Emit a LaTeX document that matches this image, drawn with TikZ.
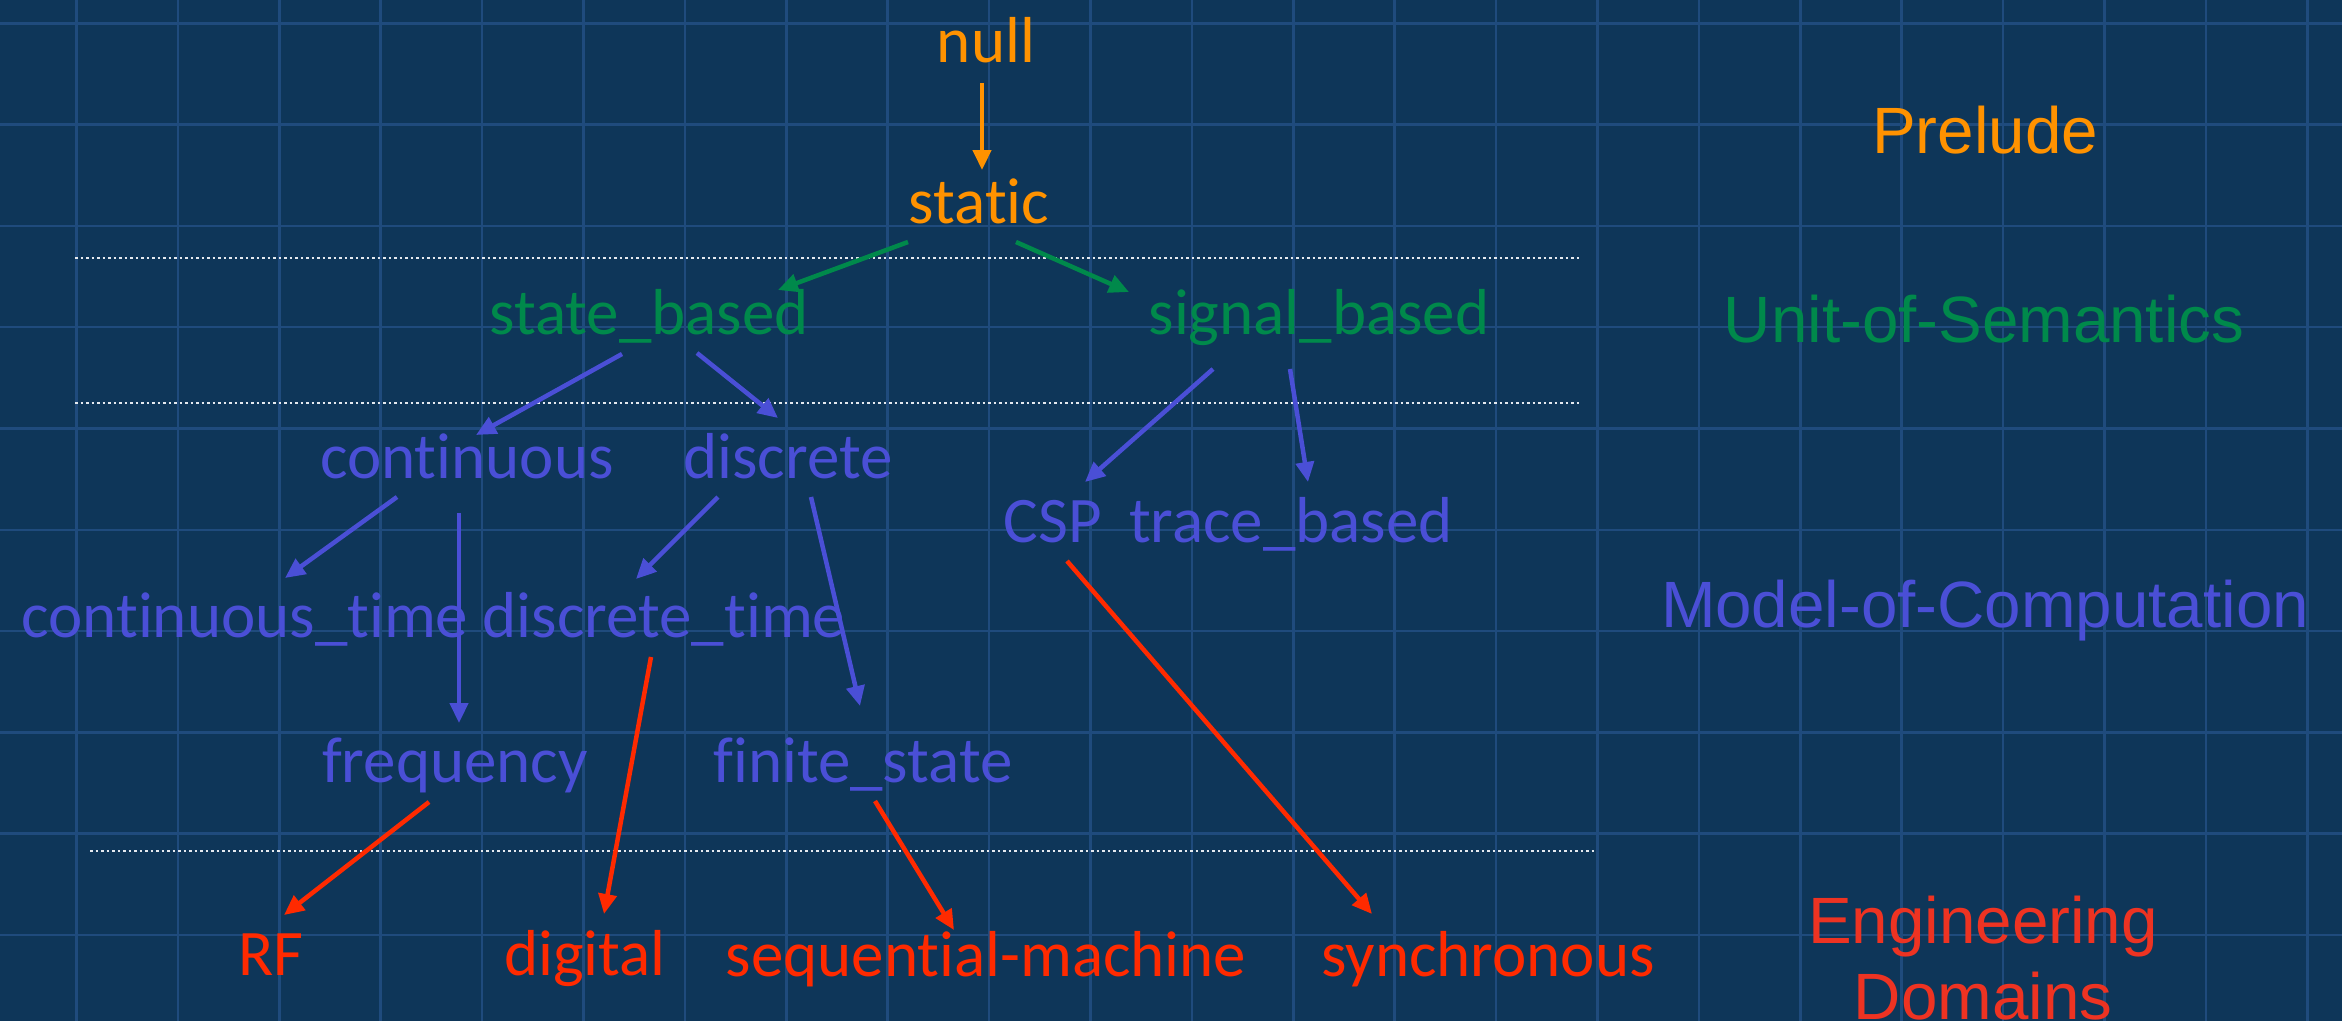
\documentclass[tikz,border=0pt]{standalone}
\usepackage{fontspec}
\usetikzlibrary{arrows.meta}
\newfontfamily\nodefont[Ligatures={NoCommon}]{Carlito}
\newfontfamily\levelfont{Liberation Sans}

\definecolor{bgblue}{HTML}{0E3659}
\definecolor{gridblue}{HTML}{1F4B7D}
\definecolor{preorange}{HTML}{FF9200}
\definecolor{semgreen}{HTML}{00894B}
\definecolor{mocblue}{HTML}{4A4FD6}
\definecolor{engred}{HTML}{FF2A00}
\definecolor{domred}{HTML}{EE3322}

\tikzset{
  term/.style={anchor=base, inner sep=0pt, font=\nodefont\fontsize{65}{78}\selectfont},
  level/.style={anchor=base, inner sep=0pt, font=\levelfont\fontsize{65.5}{78}\selectfont},
  link/.style={line width=4.5pt, -{Triangle[length=20pt,width=18pt]}},
  separator/.style={white!88!gridblue, line width=2.5pt, dash pattern=on 2.5pt off 3pt},
}

\begin{document}
\begin{tikzpicture}[x=1pt, y=-1pt]
  % canvas and blueprint grid
  \fill[bgblue] (0,0) rectangle (2342,1021);
  \path[use as bounding box] (0,0) rectangle (2342,1021);
  \foreach \k in {0,...,22} {
    \draw[gridblue, line width=2.5pt] ({76.5+101.4*\k},0) -- ({76.5+101.4*\k},1021);
  }
  \foreach \k in {0,...,9} {
    \draw[gridblue, line width=2.5pt] (0,{23.3+101.3*\k}) -- (2342,{23.3+101.3*\k});
  }

  % layer separators
  \draw[separator] (75,258) -- (1579,258);
  \draw[separator] (75,403) -- (1579,403);
  \draw[separator] (90,851) -- (1595,851);

  % prelude
  \node[term, text=preorange] (null)   at (986,62)  {null};
  \node[term, text=preorange] (static) at (979,223) {static};

  % unit of semantics
  \node[term, text=semgreen] (stateb)  at (649,334)  {state\_based};
  \node[term, text=semgreen] (signalb) at (1319,334) {signal\_based};

  % models of computation
  \node[term, text=mocblue] (cont)  at (467,478)  {continuous};
  \node[term, text=mocblue] (disc)  at (788,478)  {discrete};
  \node[term, text=mocblue] (csp)   at (1053,542) {CSP};
  \node[term, text=mocblue] (trace) at (1291,542) {trace\_based};
  \node[term, text=mocblue] (ctime) at (245,637)  {continuous\_time};
  \node[term, text=mocblue] (dtime) at (664,637)  {discrete\_time};
  \node[term, text=mocblue] (freq)  at (455,782)  {frequency};
  \node[term, text=mocblue] (fsm)   at (863,782)  {finite\_state};

  % engineering domains
  \node[term, text=engred] (rf)      at (271,975)  {RF};
  \node[term, text=engred] (digital) at (585,975)  {digital};
  \node[term, text=engred] (seqm)    at (986,976)  {sequential-machine};
  \node[term, text=engred] (sync)    at (1488,976) {synchronous};

  % layer titles
  \node[level, text=preorange] (tprelude) at (1985,153) {Prelude};
  \node[level, text=semgreen]  (tunit)    at (1984,342) {Unit-of-Semantics};
  \node[level, text=mocblue]   (tmodel)   at (1985,627) {Model-of-Computation};
  \node[level, text=domred]    (teng)     at (1983,943) {Engineering};
  \node[level, text=domred]    (tdom)     at (1983,1019) {Domains};

  % refinement arrows
  \draw[link, preorange] ([shift={(-4,21)}]null.base) -- ([shift={(3,-53)}]static.base);

  \draw[link, semgreen] ([shift={(-71,19)}]static.base) -- ([shift={(129,-44)}]stateb.base);
  \draw[link, semgreen] ([shift={(37,19)}]static.base) -- ([shift={(-190,-42)}]signalb.base);

  \draw[link, mocblue] ([shift={(-27,20)}]stateb.base) -- ([shift={(9,-43)}]cont.base);
  \draw[link, mocblue] ([shift={(48,19)}]stateb.base) -- ([shift={(-10,-60)}]disc.base);
  \draw[link, mocblue] ([shift={(-106,35)}]signalb.base) -- ([shift={(32,-60)}]csp.base);
  \draw[link, mocblue] ([shift={(-29,35)}]signalb.base) -- ([shift={(17,-60)}]trace.base);
  \draw[link, mocblue] ([shift={(-70,19)}]cont.base) -- ([shift={(40,-59)}]ctime.base);
  \draw[link, mocblue] ([shift={(-8,35)}]cont.base) -- ([shift={(4,-59)}]freq.base);
  \draw[link, mocblue] ([shift={(-70,19)}]disc.base) -- ([shift={(-28,-58)}]dtime.base);
  \draw[link, mocblue] ([shift={(23,19)}]disc.base) -- ([shift={(-3,-76)}]fsm.base);

  \draw[link, engred] ([shift={(-13,20)}]dtime.base) -- ([shift={(19,-61)}]digital.base);
  \draw[link, engred] ([shift={(-26,20)}]freq.base) -- ([shift={(13,-60)}]rf.base);
  \draw[link, engred] ([shift={(12,19)}]fsm.base) -- ([shift={(-32,-46)}]seqm.base);
  \draw[link, engred] ([shift={(14,19)}]csp.base) -- ([shift={(-116,-62)}]sync.base);
\end{tikzpicture}
\end{document}
